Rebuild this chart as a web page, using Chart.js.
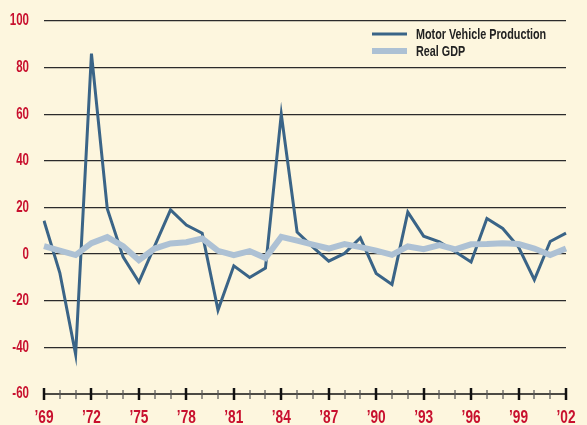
<!DOCTYPE html>
<html>
<head>
<meta charset="utf-8">
<script src="https://cdn.jsdelivr.net/npm/chart.js@4.4.1/dist/chart.umd.min.js"></script>
<style>
  html, body { margin: 0; padding: 0; background: #fdf6de; }
  canvas { display: block; }
</style>
</head>
<body>
<canvas id="chart" width="587" height="425"></canvas>
<script>
// annual % change, 1969-2002
const years = [1969, 1970, 1971, 1972, 1973, 1974, 1975, 1976, 1977, 1978, 1979,
               1980, 1981, 1982, 1983, 1984, 1985, 1986, 1987, 1988, 1989,
               1990, 1991, 1992, 1993, 1994, 1995, 1996, 1997, 1998, 1999,
               2000, 2001, 2002];
const labeledYears = [1969, 1972, 1975, 1978, 1981, 1984, 1987, 1990, 1993, 1996, 1999, 2002];

const motorVehicle = [14.3, -8, -43, 86, 19.5, -1.2, -12, 3.5, 19, 12.5, 9,
                      -24, -5, -10, -6, 60, 9.5, 3, -3, 0.3, 7,
                      -8.3, -13, 18, 7.7, 5.3, 1, -3.4, 15.3, 11, 3,
                      -11, 5.4, 9];
const realGdp = [3.4, 1.5, -0.4, 4.7, 7.3, 3.4, -2.6, 2.4, 4.6, 5.1, 6.7,
                 1.4, -0.4, 1.3, -1.7, 7.4, 5.8, 4.1, 2.4, 4.3, 3.0,
                 1.5, -0.3, 3.3, 2.1, 3.9, 2.0, 4.2, 4.3, 4.7, 4.3,
                 2.4, -0.4, 2.4];

const yMin = -60, yMax = 100, yStep = 20;

const RED = '#c8102e';
const BG = '#fdf6de';
const FONT = '"Liberation Sans", Arial, sans-serif';
// the original uses a condensed face; squeeze the text horizontally instead
const SQUEEZE = 0.72;

function narrowText(ctx, text, x, y) {
    ctx.fillText(text, x, y, ctx.measureText(text).width * SQUEEZE);
}

const background = {
    id: 'background',
    beforeDraw(chart) {
        const ctx = chart.ctx;
        ctx.save();
        ctx.fillStyle = BG;
        ctx.fillRect(0, 0, chart.width, chart.height);
        ctx.restore();
    }
};

// tick labels drawn from the scales' own ticks, but condensed
const narrowTicks = {
    id: 'narrowTicks',
    afterDraw(chart) {
        const ctx = chart.ctx;
        const xs = chart.scales.x, ys = chart.scales.y;
        ctx.save();
        ctx.fillStyle = RED;
        ctx.textBaseline = 'middle';

        ctx.font = 'bold 16px ' + FONT;
        ctx.textAlign = 'right';
        ys.ticks.forEach(function (t, i) {
            narrowText(ctx, String(t.value), ys.right - 15, ys.getPixelForTick(i));
        });

        ctx.font = 'bold 19px ' + FONT;
        ctx.textAlign = 'center';
        years.forEach(function (yr, i) {
            if (!labeledYears.includes(yr)) return;
            narrowText(ctx, '\u2019' + String(yr).slice(2), xs.getPixelForTick(i), xs.top + 24);
        });
        ctx.restore();
    }
};

// bottom axis line with year tick marks (big ones every 3 years)
const yearAxis = {
    id: 'yearAxis',
    afterDraw(chart) {
        const ctx = chart.ctx;
        const xs = chart.scales.x;
        const y = Math.round(chart.scales.y.getPixelForValue(yMin));
        ctx.save();
        ctx.strokeStyle = '#111';
        ctx.lineWidth = 1.5;
        ctx.beginPath();
        ctx.moveTo(xs.getPixelForTick(0), y);
        ctx.lineTo(xs.getPixelForTick(years.length - 1), y);
        ctx.stroke();
        years.forEach(function (yr, i) {
            const x = Math.round(xs.getPixelForTick(i));
            const major = labeledYears.includes(yr);
            ctx.lineWidth = major ? 2.5 : 1.2;
            ctx.strokeStyle = major ? '#111' : '#555';
            ctx.beginPath();
            ctx.moveTo(x, y - (major ? 6 : 4));
            ctx.lineTo(x, y + (major ? 6 : 5));
            ctx.stroke();
        });
        ctx.restore();
    }
};

const lineLegend = {
    id: 'lineLegend',
    afterDraw(chart) {
        const ctx = chart.ctx;
        ctx.save();
        ctx.font = 'bold 15px ' + FONT;
        ctx.textBaseline = 'middle';
        ctx.textAlign = 'left';
        chart.data.datasets.forEach(function (ds, i) {
            const y = 34 + i * 17;
            ctx.strokeStyle = ds.borderColor;
            ctx.lineWidth = ds.borderWidth;
            ctx.beginPath();
            ctx.moveTo(372, y);
            ctx.lineTo(407, y);
            ctx.stroke();
            ctx.fillStyle = '#222';
            narrowText(ctx, ds.label, 416, y + 1);
        });
        ctx.restore();
    }
};

new Chart(document.getElementById('chart'), {
    type: 'line',
    data: {
        labels: years,
        datasets: [{
            label: 'Motor Vehicle Production',
            data: motorVehicle,
            borderColor: '#3a6487',
            borderWidth: 3,
            pointRadius: 0,
            tension: 0,
            order: 2
        }, {
            label: 'Real GDP',
            data: realGdp,
            borderColor: '#adc1d4',
            borderWidth: 6,
            pointRadius: 0,
            tension: 0,
            order: 1
        }]
    },
    options: {
        responsive: false,
        animation: false,
        devicePixelRatio: 1,
        layout: { padding: { top: 21, right: 21, bottom: 0, left: 0 } },
        plugins: {
            legend: { display: false },
            tooltip: { enabled: false }
        },
        scales: {
            x: {
                offset: false,
                grid: { display: false },
                border: { display: false },
                ticks: { display: false, autoSkip: false },
                afterFit: function (s) { s.height = 31; }
            },
            y: {
                min: yMin,
                max: yMax,
                border: { display: false },
                grid: {
                    drawTicks: false,
                    lineWidth: 1.3,
                    color: function (c) {
                        return c.tick && c.tick.value === yMin ? 'rgba(0,0,0,0)' : '#2b2b2b';
                    }
                },
                ticks: { display: false, stepSize: yStep },
                afterFit: function (s) { s.width = 44; }
            }
        }
    },
    plugins: [background, yearAxis, narrowTicks, lineLegend]
});
</script>
</body>
</html>
